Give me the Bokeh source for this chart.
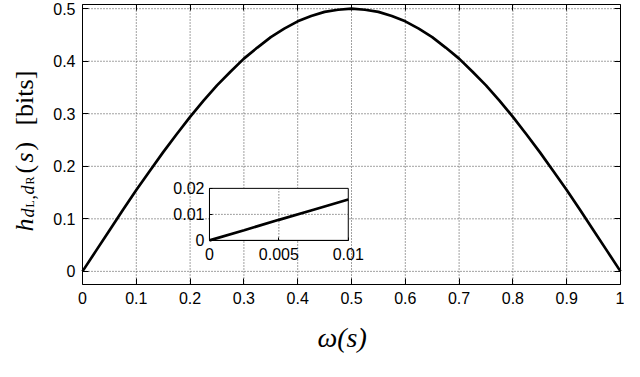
import math
from bokeh.plotting import figure
from bokeh.models import Range1d, LinearAxis, FixedTicker, CustomJSTickFormatter, Label
from bokeh.embed import file_html
from bokeh.resources import INLINE

# ---------------- data ----------------
omega = [0.000, 0.025, 0.050, 0.075, 0.100, 0.125, 0.150, 0.175, 0.200, 0.225,
         0.250, 0.275, 0.300, 0.325, 0.350, 0.375, 0.400, 0.425, 0.450, 0.475,
         0.500, 0.525, 0.550, 0.575, 0.600, 0.625, 0.650, 0.675, 0.700, 0.725,
         0.750, 0.775, 0.800, 0.825, 0.850, 0.875, 0.900, 0.925, 0.950, 0.975, 1.000]
h_bits = [0.000, 0.039, 0.078, 0.117, 0.155, 0.191, 0.227, 0.261, 0.294, 0.325,
          0.354, 0.380, 0.405, 0.426, 0.446, 0.462, 0.476, 0.486, 0.494, 0.498,
          0.500, 0.498, 0.494, 0.486, 0.476, 0.462, 0.446, 0.426, 0.405, 0.380,
          0.354, 0.325, 0.294, 0.261, 0.227, 0.191, 0.155, 0.117, 0.078, 0.039, 0.000]

inset_omega = [0.0, 0.0025, 0.005, 0.0075, 0.01]
inset_h = [0.0, 0.0039, 0.0079, 0.0118, 0.0157]

x_ticks = [0, 0.1, 0.2, 0.3, 0.4, 0.5, 0.6, 0.7, 0.8, 0.9, 1]
y_ticks = [0, 0.1, 0.2, 0.3, 0.4, 0.5]
inset_x_ticks = [0, 0.005, 0.01]
inset_y_ticks = [0, 0.01, 0.02]

# ---------------- layout constants ----------------
W, H = 624, 361
BOX_X = (0.0, 1.0)          # axes box limits (data)
BOX_Y = (-0.025, 0.508)
BOX_PX = (82, 620, 4, 284)  # left, right, top, bottom of the axes box in pixels
INSET_BOX = (0.236, 0.494, 0.059, 0.158)   # inset placement in main data units
TICK_FONT = "Liberation Sans"
TICK_SIZE = "16px"
MATH_FONT = "Liberation Serif"
GRID_COLOR = "#444444"
GRID_DASH = "1 2"

# the frame covers the whole canvas; the axes box is drawn by fixed-location axes
l, r, t, b = BOX_PX
kx = (BOX_X[1] - BOX_X[0]) / (r - l)
ky = (BOX_Y[1] - BOX_Y[0]) / (b - t)
x_range = Range1d(BOX_X[0] - l * kx, BOX_X[1] + (W - r) * kx)
y_range = Range1d(BOX_Y[0] - (H - b) * ky, BOX_Y[1] + t * ky)

p = figure(width=W, height=H, x_range=x_range, y_range=y_range,
           output_backend="svg", toolbar_location=None,
           x_axis_location=None, y_axis_location=None,
           min_border_left=0, min_border_right=0, min_border_top=0, min_border_bottom=0,
           background_fill_color="white", border_fill_color="white")
p.outline_line_color = None
p.grid.visible = False

fmt = CustomJSTickFormatter(code="return (Math.round(tick*100000)/100000).toString();")
blank = CustomJSTickFormatter(code="return '';")


def make_axis(ticks, loc, bounds, labels=True, tick_in=6, standoff=7, **kw):
    return LinearAxis(ticker=FixedTicker(ticks=ticks), formatter=fmt if labels else blank,
                      fixed_location=loc, bounds=bounds,
                      major_tick_in=tick_in, major_tick_out=0,
                      minor_tick_in=0, minor_tick_out=0, minor_tick_line_color=None,
                      axis_line_color="black", axis_line_width=1,
                      major_tick_line_color="black", major_tick_line_width=1,
                      major_label_text_font=TICK_FONT,
                      major_label_text_font_size=TICK_SIZE if labels else "0px",
                      major_label_text_color="black", major_label_standoff=standoff, **kw)


# main grid (dotted), limited to the axes box
xg = x_ticks[1:-1]
p.segment(x0=xg, y0=[BOX_Y[0]] * len(xg), x1=xg, y1=[BOX_Y[1]] * len(xg),
          line_color=GRID_COLOR, line_dash=GRID_DASH, line_width=1)
p.segment(x0=[BOX_X[0]] * len(y_ticks), y0=y_ticks, x1=[BOX_X[1]] * len(y_ticks), y1=y_ticks,
          line_color=GRID_COLOR, line_dash=GRID_DASH, line_width=1)

# main curve
p.line(omega, h_bits, line_color="black", line_width=2.7)

# main axes box
p.add_layout(make_axis(x_ticks, BOX_Y[0], BOX_X), "below")
p.add_layout(make_axis(y_ticks, BOX_X[0], BOX_Y), "left")
p.add_layout(make_axis(x_ticks, BOX_Y[1], BOX_X, labels=False), "above")
p.add_layout(make_axis(y_ticks, BOX_X[1], BOX_Y, labels=False), "right")

# ---------------- inset ----------------
x0b, x1b, y0b, y1b = INSET_BOX
ixa, ixb = inset_x_ticks[0], inset_x_ticks[-1]
iya, iyb = inset_y_ticks[0], inset_y_ticks[-1]
sx = (ixb - ixa) / (x1b - x0b)
sy = (iyb - iya) / (y1b - y0b)
p.extra_x_ranges = {"ix": Range1d(ixa - (x0b - x_range.start) * sx, ixb + (x_range.end - x1b) * sx)}
p.extra_y_ranges = {"iy": Range1d(iya - (y0b - y_range.start) * sy, iyb + (y_range.end - y1b) * sy)}
ins = dict(x_range_name="ix", y_range_name="iy")

p.quad(left=[ixa], right=[ixb], bottom=[iya], top=[iyb], fill_color="white",
       line_color="black", line_width=1, **ins)
ixg = inset_x_ticks[1:-1]
iyg = inset_y_ticks[1:-1]
p.segment(x0=ixg, y0=[iya] * len(ixg), x1=ixg, y1=[iyb] * len(ixg),
          line_color=GRID_COLOR, line_dash=GRID_DASH, line_width=1, **ins)
p.segment(x0=[ixa] * len(iyg), y0=iyg, x1=[ixb] * len(iyg), y1=iyg,
          line_color=GRID_COLOR, line_dash=GRID_DASH, line_width=1, **ins)
p.line(inset_omega, inset_h, line_color="black", line_width=2.7, **ins)

p.add_layout(make_axis(inset_x_ticks, iya, (ixa, ixb), tick_in=3, standoff=8, **ins), "below")
p.add_layout(make_axis(inset_y_ticks, ixa, (iya, iyb), tick_in=3, standoff=5, **ins), "left")

# ---------------- axis titles (math-like, built from pieces) ----------------
def ref_to_data(px, py):
    # reference pixel -> data units of the main axes
    return (px - 84) / 545.0, (271 - py) / 526.0


def piece(txt, px, py, size, style="normal", angle=0.0, align="left", baseline="alphabetic"):
    x, y = ref_to_data(px, py)
    p.add_layout(Label(x=x, y=y, text=txt, angle=angle, text_align=align,
                       text_baseline=baseline, text_font=MATH_FONT,
                       text_font_size=f"{size}px", text_font_style=style, text_color="black"))


# x title: omega(s)
piece("ω(s)", 347, 337, 28, "italic", align="center")

# y title: h_{d_L,d_R}(s) [bits]  (rotated, reading bottom -> top)
R = math.pi / 2
piece("h", 25, 231, 26, "italic", R)
piece("d", 29, 217, 18, "italic", R)
piece("L", 31, 207, 12, "normal", R)
piece(",", 29, 199, 18, "normal", R)
piece("d", 29, 194, 18, "italic", R)
piece("R", 31, 184, 12, "normal", R)
piece("(", 25, 173, 26, "normal", R)
piece("s", 25, 162, 26, "italic", R)
piece(")", 25, 150, 26, "normal", R)
piece("[bits]", 25, 125, 26, "normal", R)

open("out.html", "w").write(file_html(p, INLINE))
